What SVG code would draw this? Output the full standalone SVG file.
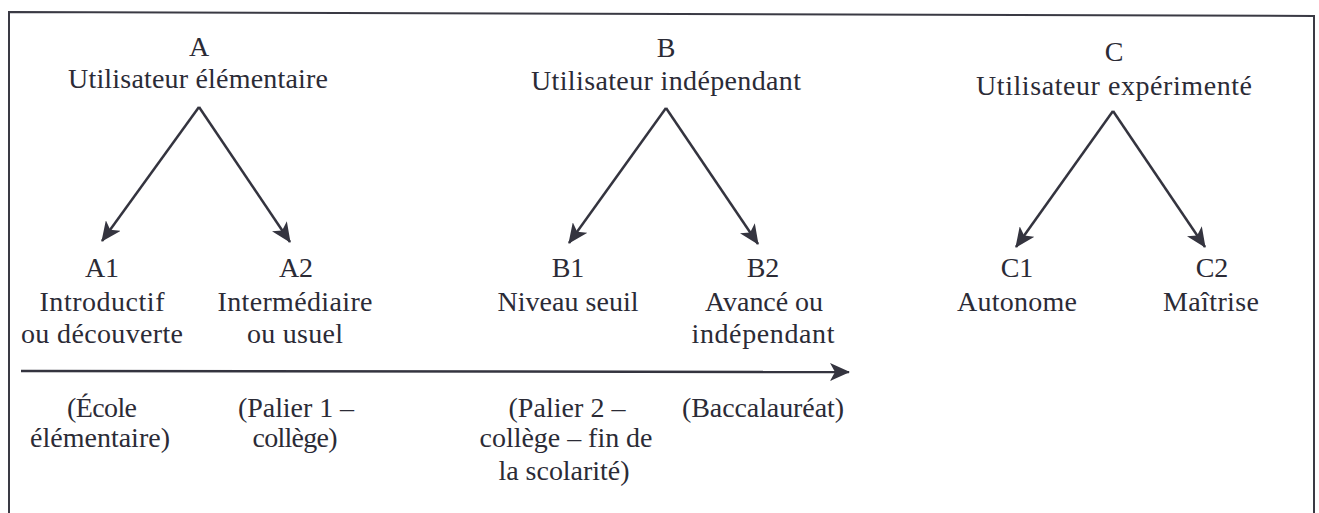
<svg xmlns="http://www.w3.org/2000/svg" width="1319" height="513" viewBox="0 0 1319 513">
<style>
  text { font-family: "Liberation Serif", "Times New Roman", serif; font-size: 28px; fill: #2b2b36; text-anchor: middle; }
  .conn { stroke: #34343f; stroke-width: 2.5; fill: none; }
  .frame { stroke: #3a3a44; stroke-width: 2; fill: none; }
</style>
<defs>
  <marker id="arr" markerUnits="userSpaceOnUse" markerWidth="22" markerHeight="18" refX="19" refY="9" orient="auto">
    <path d="M0,0 L20,9 L0,18 L5,9 z" fill="#34343f"/>
  </marker>
</defs>
<rect x="0" y="0" width="1319" height="513" fill="#ffffff"/>
<path class="frame" d="M9,513 L9,12 L1314,16 L1314,513"/>

<g id="connectors">
  <line class="conn" x1="199" y1="107" x2="102" y2="241" marker-end="url(#arr)"/>
  <line class="conn" x1="199" y1="107" x2="290" y2="242" marker-end="url(#arr)"/>
  <line class="conn" x1="666" y1="108" x2="569" y2="243" marker-end="url(#arr)"/>
  <line class="conn" x1="666" y1="108" x2="758" y2="244" marker-end="url(#arr)"/>
  <line class="conn" x1="1113" y1="111" x2="1016" y2="247" marker-end="url(#arr)"/>
  <line class="conn" x1="1113" y1="111" x2="1205" y2="247" marker-end="url(#arr)"/>
  <line class="conn" x1="21" y1="371" x2="849" y2="372" marker-end="url(#arr)"/>
</g>

<g id="nodeA">
  <text x="199" y="56">A</text>
  <text x="198" y="88" textLength="260">Utilisateur élémentaire</text>
</g>
<g id="nodeB">
  <text x="666" y="57">B</text>
  <text x="666" y="90" textLength="270">Utilisateur indépendant</text>
</g>
<g id="nodeC">
  <text x="1114" y="61">C</text>
  <text x="1114" y="95" textLength="276">Utilisateur expérimenté</text>
</g>

<g id="nodeA1">
  <text x="102" y="277">A1</text>
  <text x="102" y="311" textLength="125">Introductif</text>
  <text x="102" y="343" textLength="162">ou découverte</text>
</g>
<g id="nodeA2">
  <text x="296" y="277">A2</text>
  <text x="295" y="311" textLength="155">Intermédiaire</text>
  <text x="295" y="343" textLength="96">ou usuel</text>
</g>
<g id="nodeB1">
  <text x="568" y="277">B1</text>
  <text x="568" y="311" textLength="141">Niveau seuil</text>
</g>
<g id="nodeB2">
  <text x="763" y="277">B2</text>
  <text x="764" y="311" textLength="118">Avancé ou</text>
  <text x="763" y="343" textLength="143">indépendant</text>
</g>
<g id="nodeC1">
  <text x="1017" y="277">C1</text>
  <text x="1017" y="311" textLength="120">Autonome</text>
</g>
<g id="nodeC2">
  <text x="1212" y="277">C2</text>
  <text x="1211" y="311" textLength="96">Maîtrise</text>
</g>

<g id="stageA1">
  <text x="102" y="417" textLength="70">(École</text>
  <text x="100" y="447" textLength="140">élémentaire)</text>
</g>
<g id="stageA2">
  <text x="296" y="417" textLength="116">(Palier 1 –</text>
  <text x="295" y="447" textLength="85">collège)</text>
</g>
<g id="stageB1">
  <text x="567" y="417" textLength="117">(Palier 2 –</text>
  <text x="566" y="447" textLength="173">collège – fin de</text>
  <text x="564" y="480" textLength="131">la scolarité)</text>
</g>
<g id="stageB2">
  <text x="763" y="417" textLength="162">(Baccalauréat)</text>
</g>
</svg>
